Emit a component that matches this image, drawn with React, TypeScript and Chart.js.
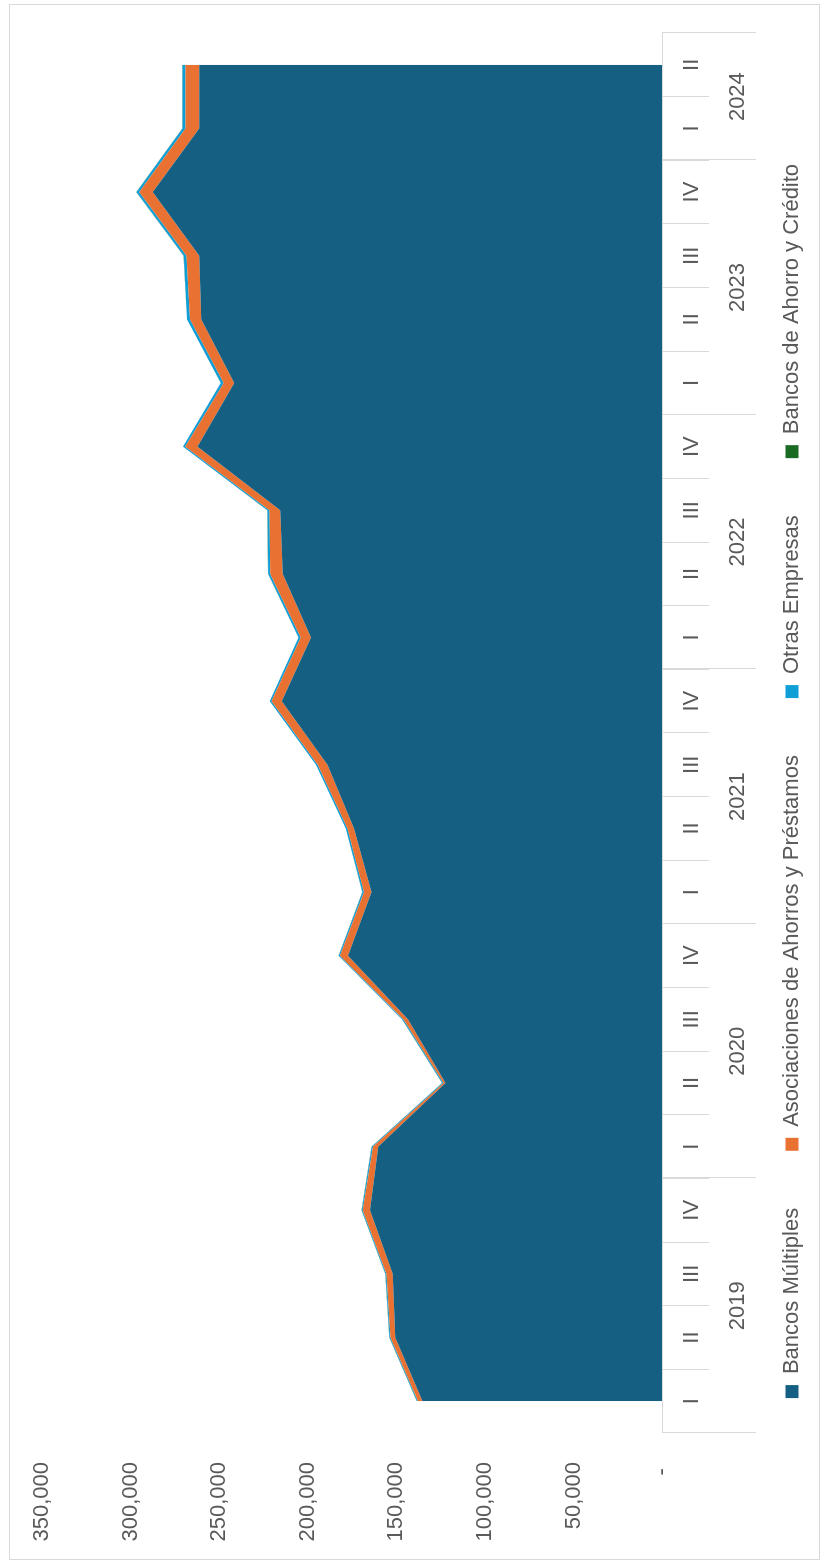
import { useEffect, useRef } from 'react';
import { Chart, registerables } from 'chart.js';

Chart.register(...registerables);

// ---- Data ----
const QUARTERS = ['I', 'II', 'III', 'IV', 'I', 'II', 'III', 'IV', 'I', 'II', 'III', 'IV', 'I', 'II', 'III', 'IV', 'I', 'II', 'III', 'IV', 'I', 'II'];
const YEARS = ['2019', '2020', '2021', '2022', '2023', '2024'];
const QUARTERS_PER_YEAR = [4, 4, 4, 4, 4, 2];

const BANCOS_MULTIPLES = [135250, 150600, 152060, 164960, 160300, 122190, 143490, 177290, 164060, 173920, 188890, 214670, 198250, 214110, 215620, 262310, 241580, 260240, 261360, 287540, 261360, 261360];
const ASOCIACIONES = [2500, 2700, 3450, 4000, 2950, 1200, 2550, 4600, 4200, 3700, 5550, 5900, 5750, 7100, 6000, 6950, 5950, 6350, 7100, 7650, 7700, 7700];
const OTRAS_EMPRESAS = [600, 600, 600, 600, 700, 700, 700, 700, 900, 900, 900, 900, 1200, 1200, 1200, 1200, 1600, 1600, 1600, 1600, 1700, 1700];
const BANCOS_AHORRO_CREDITO = [100, 100, 100, 100, 100, 100, 100, 100, 100, 100, 100, 100, 100, 100, 100, 100, 100, 100, 100, 100, 100, 100];

const SERIES_NAMES = ['Bancos Múltiples', 'Asociaciones de Ahorros y Préstamos', 'Otras Empresas', 'Bancos de Ahorro y Crédito'];
const SERIES_COLORS = ['#156082', '#E97132', '#0F9ED5', '#196B24'];

const VALUE_MAX = 350000;
const VALUE_STEP = 50000;

const TEXT_COLOR = '#595959';
const LINE_COLOR = '#d9d9d9';
const FONT_FAMILY = "'Liberation Sans', Arial, sans-serif";
const FONT_SIZE = 22;

const yearAxisPlugin = {
  id: 'yearAxis',
  afterDraw(chart: any) {
    const xs = chart.scales.x;
    const area = chart.chartArea;
    const ctx = chart.ctx as CanvasRenderingContext2D;
    ctx.save();
    ctx.strokeStyle = LINE_COLOR;
    ctx.lineWidth = 1;
    ctx.fillStyle = TEXT_COLOR;
    ctx.font = `${FONT_SIZE}px ${FONT_FAMILY}`;
    ctx.textAlign = 'center';
    ctx.textBaseline = 'middle';
    const drawSep = (v: number) => {
      const p = Math.round(xs.getPixelForValue(v)) + 0.5;
      ctx.beginPath();
      ctx.moveTo(p, area.bottom);
      ctx.lineTo(p, area.bottom + 94);
      ctx.stroke();
    };
    drawSep(-0.5);
    let start = 0;
    YEARS.forEach((yr, i) => {
      const end = start + QUARTERS_PER_YEAR[i];
      drawSep(end - 0.5);
      ctx.fillText(yr, xs.getPixelForValue((start + end - 1) / 2), area.bottom + 76);
      start = end;
    });
    ctx.restore();
  },
};

export default function App() {
  const ref = useRef<HTMLCanvasElement>(null);

  useEffect(() => {
    document.body.style.overflow = 'hidden';
    Chart.defaults.font.family = FONT_FAMILY;
    const seriesData = [BANCOS_MULTIPLES, ASOCIACIONES, OTRAS_EMPRESAS, BANCOS_AHORRO_CREDITO];
    const chart = new Chart(ref.current as HTMLCanvasElement, {
      type: 'line',
      data: {
        labels: QUARTERS,
        datasets: seriesData.map((d, i) => ({
          label: SERIES_NAMES[i],
          data: d,
          backgroundColor: SERIES_COLORS[i],
          borderColor: SERIES_COLORS[i],
          borderWidth: 0,
          pointRadius: 0,
          pointHoverRadius: 0,
          tension: 0,
          fill: i === 0 ? 'origin' : '-1',
        })),
      },
      options: {
        responsive: false,
        animation: false,
        devicePixelRatio: 1,
        layout: { padding: { top: 37, right: 0, bottom: 9, left: 0 } },
        scales: {
          x: {
            type: 'category',
            offset: true,
            grid: {
              display: true,
              drawOnChartArea: false,
              drawTicks: true,
              tickLength: 47,
              offset: true,
              color: LINE_COLOR,
              lineWidth: 1,
            },
            border: { display: true, color: LINE_COLOR, width: 1 },
            ticks: {
              color: TEXT_COLOR,
              font: { size: FONT_SIZE },
              padding: -30,
              autoSkip: false,
              maxRotation: 0,
              minRotation: 0,
            },
            afterFit: (s: any) => {
              s.height = 62;
            },
          },
          y: {
            type: 'linear',
            stacked: true,
            min: 0,
            max: VALUE_MAX,
            grid: { display: false, drawTicks: false },
            border: { display: false },
            ticks: {
              stepSize: VALUE_STEP,
              color: TEXT_COLOR,
              font: { size: FONT_SIZE },
              padding: 29,
              callback: (v: any) => (Number(v) === 0 ? '- ' : Number(v).toLocaleString('en-US')),
            },
            afterFit: (s: any) => {
              s.width = 129;
            },
          },
          yRight: {
            type: 'linear',
            position: 'right',
            display: true,
            grid: { display: false, drawTicks: false },
            border: { display: false },
            ticks: { display: false },
            afterFit: (s: any) => {
              s.width = 33;
            },
          },
        },
        plugins: {
          legend: {
            position: 'bottom',
            labels: {
              boxWidth: 13,
              boxHeight: 13,
              padding: 57,
              color: TEXT_COLOR,
              font: { size: FONT_SIZE },
            },
          },
          tooltip: { enabled: false },
        },
      } as any,
      plugins: [yearAxisPlugin],
    });
    return () => chart.destroy();
  }, []);

  return (
    <div
      style={{
        position: 'absolute',
        left: 0,
        top: 0,
        width: 1562,
        height: 822,
        transformOrigin: '0 0',
        transform: 'translateY(1562px) rotate(-90deg)',
        background: '#ffffff',
      }}
    >
      <canvas ref={ref} width={1562} height={822} style={{ position: 'absolute', left: 0, top: 0, width: 1562, height: 822 }} />
      <div
        style={{
          position: 'absolute',
          left: 2,
          top: 9,
          width: 1556,
          height: 811,
          border: `1px solid ${LINE_COLOR}`,
          boxSizing: 'border-box',
          pointerEvents: 'none',
        }}
      />
    </div>
  );
}
